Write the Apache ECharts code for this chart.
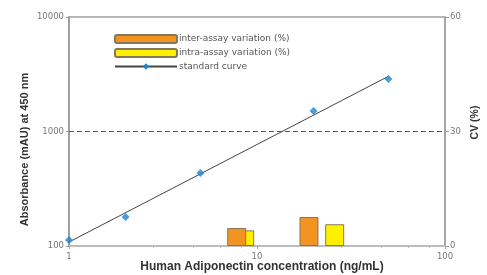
<!DOCTYPE html>
<html>
<head>
<meta charset="utf-8">
<script src="https://cdn.jsdelivr.net/npm/echarts@6/dist/echarts.min.js"></script>
<style>
  html, body { margin: 0; padding: 0; background: #fff; }
  #chart { width: 487px; height: 275px; }
</style>
</head>
<body>
<div id="chart"></div>
<script>
// standard curve (ng/mL vs mAU)
var stdConc = [1, 2, 5, 20, 50];
var stdAbs = [113, 179, 434, 1510, 2870];

// CV (%) bars, placed at the control sample concentrations
var interConc = [7.8, 18.9];
var interCV = [4.7, 7.6];
var intraConc = [8.6, 25.9];
var intraCV = [4.1, 5.7];

var absTicks = ['100', '1000', '10000'];
var cvTicks = ['0', '30', '60'];

// power fit in log-log space
function powerFit(xs, ys) {
    var lx = xs.map(Math.log10), ly = ys.map(Math.log10);
    var mx = 0, my = 0;
    for (var i = 0; i < lx.length; i++) { mx += lx[i]; my += ly[i]; }
    mx /= lx.length; my /= ly.length;
    var sxy = 0, sxx = 0;
    for (i = 0; i < lx.length; i++) {
        sxy += (lx[i] - mx) * (ly[i] - my);
        sxx += (lx[i] - mx) * (lx[i] - mx);
    }
    var b = sxy / sxx, a = my - b * mx;
    return function (x) { return Math.pow(10, a + b * Math.log10(x)); };
}
var fit = powerFit(stdConc, stdAbs);
var fitX = [stdConc[0], stdConc[stdConc.length - 1]];
var fitLine = fitX.map(function (x) { return [x, fit(x)]; });

var font = 'Liberation Sans';
var tickFont = { fontFamily: 'DejaVu Sans', fontSize: 8.5, color: '#777' };
var chart = echarts.init(document.getElementById('chart'));

var option = {
    animation: false,
    textStyle: { fontFamily: font },
    grid: {
        left: 69, right: 42, top: 17, bottom: 29,
        outerBoundsMode: 'none',
        containLabel: false,
        show: true, borderColor: '#a0a0a0', borderWidth: 1.5
    },
    legend: {
        orient: 'vertical',
        left: 109, top: 29,
        itemWidth: 62, itemHeight: 8, itemGap: 4,
        textStyle: { fontFamily: 'DejaVu Sans', fontSize: 9, color: '#555', padding: [0, 0, 0, -3] },
        data: ['inter-assay variation (%)', 'intra-assay variation (%)', 'standard curve']
    },
    xAxis: [{
        type: 'log', logBase: 10, min: 1, max: 100,
        name: 'Human Adiponectin concentration (ng/mL)',
        nameLocation: 'middle', nameGap: 15, nameMoveOverlap: false,
        nameTextStyle: { fontSize: 12, fontWeight: 'bold', color: '#333', padding: [0, 0, 0, 10] },
        axisLine: { lineStyle: { color: '#c0c0c0', width: 1.5 } },
        axisTick: { show: true, length: 3, lineStyle: { color: '#aaa' } },
        minorTick: { show: true, splitNumber: 5, length: 2, lineStyle: { color: '#bbb' } },
        axisLabel: Object.assign({ margin: 6 }, tickFont),
        splitLine: { show: false }
    }, {
        type: 'value', min: 0, max: 2, show: false
    }],
    yAxis: [{
        type: 'log', logBase: 10, min: 100, max: 10000,
        name: 'Absorbance (mAU) at 450 nm',
        nameLocation: 'middle', nameGap: 39, nameMoveOverlap: false,
        nameTextStyle: { fontSize: 11, fontWeight: 'bold', color: '#333', padding: [0, 36, 0, 0] },
        axisLine: { show: true, lineStyle: { color: '#a0a0a0', width: 2 } },
        axisTick: { show: true, length: 3, lineStyle: { color: '#999' } },
        axisLabel: Object.assign({
            margin: 5,
            formatter: function (v) { return absTicks.indexOf(String(v)) >= 0 ? String(v) : ''; }
        }, tickFont),
        splitLine: { show: false }
    }, {
        type: 'value', min: 0, max: 60, interval: 30,
        name: 'CV (%)',
        nameLocation: 'middle', nameGap: 25, nameRotate: 90, nameMoveOverlap: false,
        nameTextStyle: { fontSize: 10.5, fontWeight: 'bold', color: '#333', padding: [0, 0, 0, 18] },
        axisLine: { show: true, lineStyle: { color: '#a0a0a0', width: 1.5 } },
        axisTick: { show: true, length: 4, lineStyle: { color: '#999' } },
        axisLabel: Object.assign({
            margin: 5,
            formatter: function (v) { return cvTicks.indexOf(String(v)) >= 0 ? String(v) : ''; }
        }, tickFont),
        splitLine: { show: false }
    }],
    series: [{
        name: 'inter-assay variation (%)',
        type: 'bar',
        xAxisIndex: 1, yAxisIndex: 1,
        barWidth: 19,
        z: 3,
        itemStyle: { color: '#f39322', borderColor: '#85775a', borderWidth: 1 },
        data: interConc.map(function (c, i) { return [Math.log10(c), interCV[i]]; })
    }, {
        name: 'intra-assay variation (%)',
        type: 'bar',
        xAxisIndex: 1, yAxisIndex: 1,
        barWidth: 19, barGap: '-100%',
        z: 2,
        itemStyle: { color: '#fff000', borderColor: '#85775a', borderWidth: 1 },
        data: intraConc.map(function (c, i) { return [Math.log10(c), intraCV[i]]; })
    }, {
        name: 'standard curve',
        type: 'line',
        symbol: 'diamond', symbolSize: 7, showSymbol: false,
        itemStyle: { color: '#1b84d2' },
        lineStyle: { color: '#444', width: 1 },
        z: 4,
        data: fitLine,
        markLine: {
            silent: true, symbol: 'none',
            label: { show: false },
            lineStyle: { color: '#555', type: [5, 3], width: 1.2 },
            data: [{ yAxis: 1000 }]
        }
    }, {
        name: 'points',
        type: 'scatter',
        symbol: 'diamond', symbolSize: 8,
        itemStyle: { color: '#1b84d2' },
        z: 5,
        data: stdConc.map(function (c, i) { return [c, stdAbs[i]]; })
    }]
};

chart.setOption(option);
</script>
</body>
</html>
